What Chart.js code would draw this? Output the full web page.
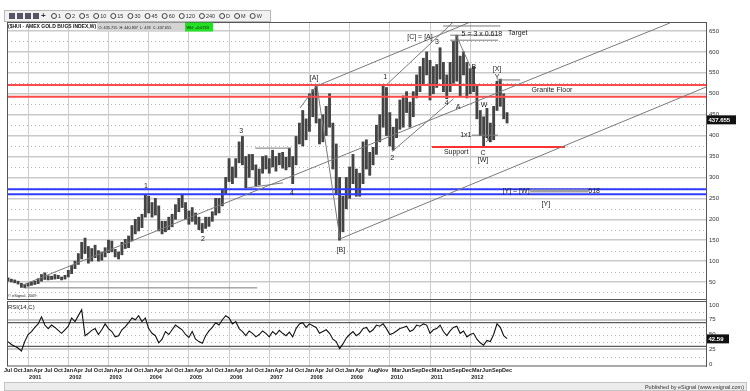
<!DOCTYPE html>
<html>
<head>
<meta charset="utf-8">
<script src="https://cdn.jsdelivr.net/npm/chart.js@4.4.0/dist/chart.umd.min.js"></script>
<style>
  html, body { margin: 0; padding: 0; background: #fff; }
  canvas { display: block; }
</style>
</head>
<body>
<canvas id="hui" width="750" height="391"></canvas>
<script>
// months are counted from Jan 2001 (= 0), first bar is Jul 2000 (= -6)
var firstMonth = -6;
var monthNames = ['Jan','Feb','Mar','Apr','May','Jun','Jul','Aug','Sep','Oct','Nov','Dec'];

// monthly high / low, Jul 2000 .. Dec 2012
var priceHigh = [
  60,57,55,52,47,44,
  47,50,52,58,68,72,65,64,68,66,62,66,
  78,90,100,118,145,155,135,130,138,125,122,132,
  150,148,128,122,145,152,160,185,200,205,212,258,
  255,240,250,232,195,195,205,212,235,250,258,240,
  220,228,215,205,190,205,205,218,250,250,270,300,
  345,325,345,385,398,350,355,355,330,320,350,352,
  345,365,350,358,360,348,370,350,398,430,460,440,
  500,510,520,440,450,470,500,430,380,300,255,300,
  325,355,320,310,385,390,360,372,425,450,520,515,
  455,420,440,485,495,505,480,505,545,565,585,600,
  580,565,570,610,575,545,575,625,640,590,600,575,
  560,565,520,460,445,465,430,470,530,535,500,455
];
var priceLow = [
  52,50,48,45,37,36,
  40,42,44,46,52,56,55,56,57,58,55,57,
  62,70,82,92,105,118,95,100,108,100,102,110,
  120,122,110,105,115,130,132,148,165,172,180,205,
  215,205,210,172,165,170,175,182,200,218,228,200,
  188,195,188,175,168,178,183,195,210,215,232,260,
  290,285,300,335,330,275,300,318,280,282,310,320,
  310,325,315,330,322,318,325,285,330,380,375,390,
  410,445,430,380,385,400,420,320,260,150,170,225,
  250,285,255,255,285,320,305,330,355,385,420,400,
  375,365,395,415,420,455,420,445,490,505,520,545,
  485,500,515,535,505,488,505,525,530,495,545,490,
  500,505,440,400,373,395,385,390,460,470,440,430
];
var rsiValues = [
  38,33,30,27,22,38,
  50,55,62,68,80,66,60,66,62,57,52,58,
  64,78,72,82,92,48,52,57,60,50,58,68,
  60,55,46,48,58,63,70,78,75,82,72,78,
  60,52,48,36,42,55,50,58,66,62,58,50,
  45,55,42,38,35,48,56,62,70,66,75,82,
  78,68,72,60,55,48,56,52,46,50,56,52,
  46,55,50,57,52,48,54,46,60,68,70,62,
  68,65,62,52,55,58,52,42,38,26,34,44,
  50,55,48,52,60,62,54,58,66,64,68,60,
  50,52,56,60,62,64,55,58,66,64,68,66,
  52,58,60,66,55,48,56,62,64,52,56,46,
  50,52,42,36,32,40,38,50,68,62,48,43
];
var lastQuote = { open: '435.715', high: '440.837', low: '433', close: 437.655 };
var lastRsi = 42.59;

var priceTicks = [50,100,150,200,250,300,350,400,450,500,550,600,650];
var priceDotted = [25,75,125,175,225,275,325,375,425,475,525,575,625];
var rsiTicks = [0,25,50,75,100];
var rsiDotted = [12.5,37.5,50,62.5,87.5];
var rsiBands = [30,70];

var tickLabelMonths = [-6,-3,0,3,6,9,12,15,18,21,24,27,30,33,36,39,42,45,48,51,54,57,60,63,66,69,
  72,75,78,81,84,87,90,93,96,99,103,106,110,113,116,119,122,125,128,131,134,137,140,143];
var yearMonths = [0,12,24,36,48,60,72,84,96,108,120,132];
var yearLabels = ['2001','2002','2003','2004','2005','2006','2007','2008','2009','2010','2011','2012'];
var intervals = ['1','2','5','10','15','30','45','60','120','240','D','M','W'];

// horizontal levels [price, colour]
var levels = [[521,'#ff4a4a'],[493,'#ff4a4a'],[272,'#2f3cff'],[260,'#2f3cff']];
var supportLine = [[120.6,373],[160.3,373]];

// hand drawn trend lines, [month, price] pairs
var trendLines = [
  [[-0.9,36],[68.4,36]],
  [[-1.5,43],[191.6,669]],
  [[93.1,153],[202.4,516]],
  [[86,518],[131.9,671]],
  [[107.2,523],[126.9,671]],
  [[108.7,362],[127,488]],
  [[127.8,640],[132.5,557]],
  [[86.3,516],[93.1,155]],
  [[81.2,466],[86,518]],
  [[67.8,370],[78.5,370]],
  [[65.4,275],[76.1,287]],
  [[123.9,662],[141,662]],
  [[126,640],[140.3,640]],
  [[126,628],[140.3,628]],
  [[140,533],[146.9,533]],
  [[132.5,401],[140.3,401]]
];
var projLine = [[149.9,267.5],[167.2,267.5]];

var waveLabels = [
  ['1',35.2,279],['2',52.2,153],['3',63.6,411],['4',78.8,263],
  ['[A]',85.4,538],['[B]',93.4,126],['1',106.6,540],['2',108.7,346],
  ['3',122.1,624],['[C] = [A]',117,636],['4',125,478],['A',128.4,468],
  ['B',133.1,564],['W',136.1,473],['[X]',140,559],['Y',140,540],
  ['1x1',130.7,401],['X',137.3,389],['C',135.8,358],['[W]',135.8,342],
  ['Support',127.8,361],['Granite Floor',156.4,509],['Target',146.2,645],
  ['5 = 3 x 0.618',135.5,643],['[Y] = [W]',145.7,268],['618',169,268],['[Y]',154.6,236]
];

var xMin = -6.3, xMax = 202.4;

var bars = priceHigh.map(function (h, i) {
  return { x: firstMonth + i, y: [priceLow[i], h] };
});
var rsiPts = rsiValues.map(function (v, i) { return { x: firstMonth + i, y: v }; });

function seg(points, color, width, axis) {
  return {
    type: 'line', yAxisID: axis || 'y',
    data: points.map(function (p) { return { x: p[0], y: p[1] }; }),
    borderColor: color, borderWidth: width, pointRadius: 0, tension: 0
  };
}

var datasets = [];
datasets.push({ type: 'line', yAxisID: 'rsi', data: rsiPts, borderColor: '#111', borderWidth: 1.1,
  pointRadius: 0, tension: 0 });
rsiBands.forEach(function (v) { datasets.push(seg([[xMin, v], [xMax, v]], '#333', 1, 'rsi')); });
trendLines.forEach(function (l) { datasets.push(seg(l, '#7a7a7a', 1)); });
datasets.push(seg(projLine, '#a0a0a0', 3));
datasets.push(seg(supportLine, '#ff3030', 2));
levels.forEach(function (l) { datasets.push(seg([[xMin, l[0]], [xMax, l[0]]], l[1], 2)); });
datasets.push({ type: 'bar', yAxisID: 'y', data: bars, backgroundColor: '#444',
  barThickness: 2.2, grouped: false });

function boxText(c, txt, x, yMid, w, bg, fg) {
  c.fillStyle = bg; c.fillRect(x, yMid - 4.5, w, 9);
  c.fillStyle = fg; c.textAlign = 'left'; c.textBaseline = 'middle';
  c.fillText(txt, x + 1.5, yMid + 0.5);
}

var overlay = {
  id: 'overlay',
  beforeDatasetsDraw: function (chart) {
    var c = chart.ctx, a = chart.chartArea, ys = chart.scales.y, rs = chart.scales.rsi;
    c.save();
    c.strokeStyle = '#b4b4b4'; c.lineWidth = 1; c.setLineDash([1, 3]);
    priceDotted.forEach(function (v) {
      var py = Math.round(ys.getPixelForValue(v)) + 0.5;
      c.beginPath(); c.moveTo(a.left, py); c.lineTo(a.right, py); c.stroke();
    });
    rsiDotted.forEach(function (v) {
      var py = Math.round(rs.getPixelForValue(v)) + 0.5;
      c.beginPath(); c.moveTo(a.left, py); c.lineTo(a.right, py); c.stroke();
    });
    c.restore();
  },
  afterDraw: function (chart) {
    var c = chart.ctx, a = chart.chartArea, xs = chart.scales.x, ys = chart.scales.y, rs = chart.scales.rsi;
    c.save();
    // pane frames
    c.strokeStyle = '#555'; c.lineWidth = 1;
    c.strokeRect(a.left + 0.5, ys.top + 0.5, a.right - a.left, ys.bottom - ys.top - 1);
    c.strokeRect(a.left + 0.5, rs.top + 1.5, a.right - a.left, rs.bottom - rs.top - 1.5);

    // wave counts and notes
    c.font = '7px "Liberation Sans", Arial, sans-serif';
    c.fillStyle = '#222'; c.textAlign = 'center'; c.textBaseline = 'middle';
    waveLabels.forEach(function (w) {
      c.fillText(w[0], xs.getPixelForValue(w[1]), ys.getPixelForValue(w[2]));
    });

    // year labels under the months
    c.font = 'bold 5.5px "Liberation Sans", Arial, sans-serif';
    c.fillStyle = '#222'; c.textAlign = 'left'; c.textBaseline = 'top';
    yearMonths.forEach(function (m, i) {
      c.fillText(yearLabels[i], xs.getPixelForValue(m) + 1, a.bottom + 9);
    });

    // header toolbar
    c.fillStyle = '#f1f1f1'; c.fillRect(4, 10, 266, 11);
    c.strokeStyle = '#b8b8b8'; c.strokeRect(4.5, 10.5, 266, 11);
    c.fillStyle = '#556'; [9, 17, 25, 33].forEach(function (x) { c.fillRect(x, 13, 6, 6); });
    c.fillStyle = '#333'; c.font = 'bold 8px "Liberation Sans", Arial'; c.textBaseline = 'middle';
    c.textAlign = 'left';
    c.fillText('+', 41, 16);
    c.font = '5.5px "Liberation Sans", Arial';
    var tx = 51;
    intervals.forEach(function (t) {
      c.strokeStyle = '#444'; c.beginPath(); c.arc(tx + 3, 16, 2.5, 0, Math.PI * 2); c.stroke();
      c.fillStyle = '#333'; c.fillText(t, tx + 7, 16.5);
      tx += 11 + c.measureText(t).width;
    });

    // symbol line
    c.font = 'bold 5px "Liberation Sans", Arial';
    c.fillStyle = '#111'; c.textAlign = 'left'; c.textBaseline = 'middle';
    c.fillText('($HUI - AMEX GOLD BUGS INDEX,W)', 8, 27);
    c.font = '3.8px "Liberation Sans", Arial';
    boxText(c, 'O: ' + lastQuote.open + '  H: ' + lastQuote.high + '  L: ' + lastQuote.low +
      '  C: ' + lastQuote.close, 97, 27, 88, '#d4d4d4', '#222');
    boxText(c, 'Wkl: +0.0733', 185, 27, 28, '#22e022', '#111');

    // last value markers on the axes
    c.font = 'bold 6px "Liberation Sans", Arial';
    boxText(c, String(lastQuote.close), a.right + 1, ys.getPixelForValue(lastQuote.close), 29, '#111', '#fff');
    boxText(c, lastRsi.toFixed(2), a.right + 1, rs.getPixelForValue(lastRsi), 22, '#111', '#fff');

    // pane captions
    c.font = '6px "Liberation Sans", Arial'; c.fillStyle = '#222';
    c.fillText('RSI(14,C)', 8, rs.top + 7);
    c.font = '4px "Liberation Sans", Arial';
    c.fillText('\u00a9 eSignal, 2009', 8, ys.bottom - 4);

    // footer
    c.fillStyle = '#ececec'; c.fillRect(4, 382, 743, 9);
    c.strokeStyle = '#c4c4c4'; c.strokeRect(4.5, 382.5, 742, 8);
    c.fillStyle = '#333'; c.font = '5.5px "Liberation Sans", Arial'; c.textAlign = 'right';
    c.fillText('Published by eSignal (www.esignal.com)', 744, 387);
    c.restore();
  }
};

Chart.defaults.font.family = '"Liberation Sans", Arial, sans-serif';

new Chart(document.getElementById('hui'), {
  type: 'bar',
  data: { datasets: datasets },
  plugins: [overlay],
  options: {
    responsive: false,
    animation: false,
    layout: { padding: { left: 7, top: 22, right: 4, bottom: 10 } },
    plugins: { legend: { display: false }, tooltip: { enabled: false } },
    scales: {
      x: {
        type: 'linear', min: xMin, max: xMax, offset: false,
        afterBuildTicks: function (s) {
          var all = tickLabelMonths.slice();
          yearMonths.forEach(function (m) { if (all.indexOf(m) < 0) all.push(m); });
          all.sort(function (p, q) { return p - q; });
          s.ticks = all.map(function (v) { return { value: v }; });
        },
        afterFit: function (s) { s.height = 15; },
        ticks: {
          autoSkip: false, maxRotation: 0, padding: 1, color: '#222',
          font: { size: 5.5, weight: 'bold' },
          callback: function (v) {
            return tickLabelMonths.indexOf(v) >= 0 ? monthNames[((v % 12) + 12) % 12] : '';
          }
        },
        grid: {
          offset: false, drawTicks: false, lineWidth: 1,
          color: function (ctx) {
            return ctx.tick && yearMonths.indexOf(ctx.tick.value) >= 0 ? '#cdcdcd' : 'rgba(0,0,0,0)';
          }
        },
        border: { display: false }
      },
      y: {
        type: 'linear', position: 'right', stack: 'panes', stackWeight: 278,
        min: 7, max: 671.5,
        afterBuildTicks: function (s) { s.ticks = priceTicks.map(function (v) { return { value: v }; }); },
        afterFit: function (s) { s.width = 40; },
        ticks: { autoSkip: false, color: '#333', padding: 3, font: { size: 6 } },
        grid: { color: '#cacaca', lineWidth: 1.5, drawTicks: false },
        border: { color: '#666' }
      },
      rsi: {
        type: 'linear', position: 'right', stack: 'panes', stackWeight: 66,
        min: -3.4, max: 108.5,
        afterBuildTicks: function (s) { s.ticks = rsiTicks.map(function (v) { return { value: v }; }); },
        afterFit: function (s) { s.width = 40; },
        ticks: { autoSkip: false, color: '#333', padding: 3, font: { size: 6 } },
        grid: {
          drawTicks: false, lineWidth: 2,
          color: function (ctx) {
            var v = ctx.tick ? ctx.tick.value : -1;
            return (v === 25 || v === 75) ? '#cacaca' : 'rgba(0,0,0,0)';
          }
        },
        border: { color: '#666' }
      }
    }
  }
});
</script>
</body>
</html>
